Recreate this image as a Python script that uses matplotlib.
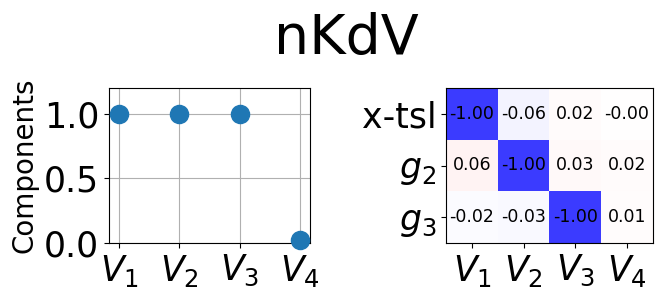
import matplotlib
matplotlib.use('Agg')
import matplotlib.pyplot as plt
import numpy as np

# data
title = 'nKdV'
v_labels = ['$V_1$', '$V_2$', '$V_3$', '$V_4$']
components = [1.0, 1.0, 1.0, 0.02]
row_labels = ['x-tsl', '$g_2$', '$g_3$']
corr = [[-1.00, -0.06, 0.02, -0.00],
        [0.06, -1.00, 0.03, 0.02],
        [-0.02, -0.03, -1.00, 0.01]]

W, H = 662, 299
fig = plt.figure(figsize=(W / 100, H / 100), dpi=100)
fig.suptitle(title, fontsize=40, x=0.523, y=0.96)

# left: components
ax1 = fig.add_axes([109 / W, 56 / H, 201 / W, 155 / H])
x = np.arange(len(v_labels))
ax1.scatter(x, components, s=170, color='#1f77b4', zorder=3, clip_on=False)
ax1.set_xlim(-0.17, 3.17)
ax1.set_ylim(0, 1.2)
ax1.set_yticks([0.0, 0.5, 1.0])
ax1.set_xticks(x)
ax1.set_xticklabels(v_labels)
ax1.tick_params(labelsize=25)
ax1.set_ylabel('Components', fontsize=20)
ax1.grid(True)

# right: correlation heatmap
ax2 = fig.add_axes([446 / W, 56 / H, 207 / W, 155 / H])
arr = np.array(corr)
ax2.imshow(arr, cmap='bwr', vmin=-1, vmax=1, alpha=0.77, aspect='equal')
for i in range(arr.shape[0]):
    for j in range(arr.shape[1]):
        ax2.text(j, i, f'{arr[i, j]:.2f}', ha='center', va='center', fontsize=12.5)
ax2.set_xticks(range(len(v_labels)))
ax2.set_xticklabels(v_labels)
ax2.set_yticks(range(len(row_labels)))
ax2.set_yticklabels(row_labels)
ax2.tick_params(labelsize=25)

plt.savefig('out.png', dpi=100)
